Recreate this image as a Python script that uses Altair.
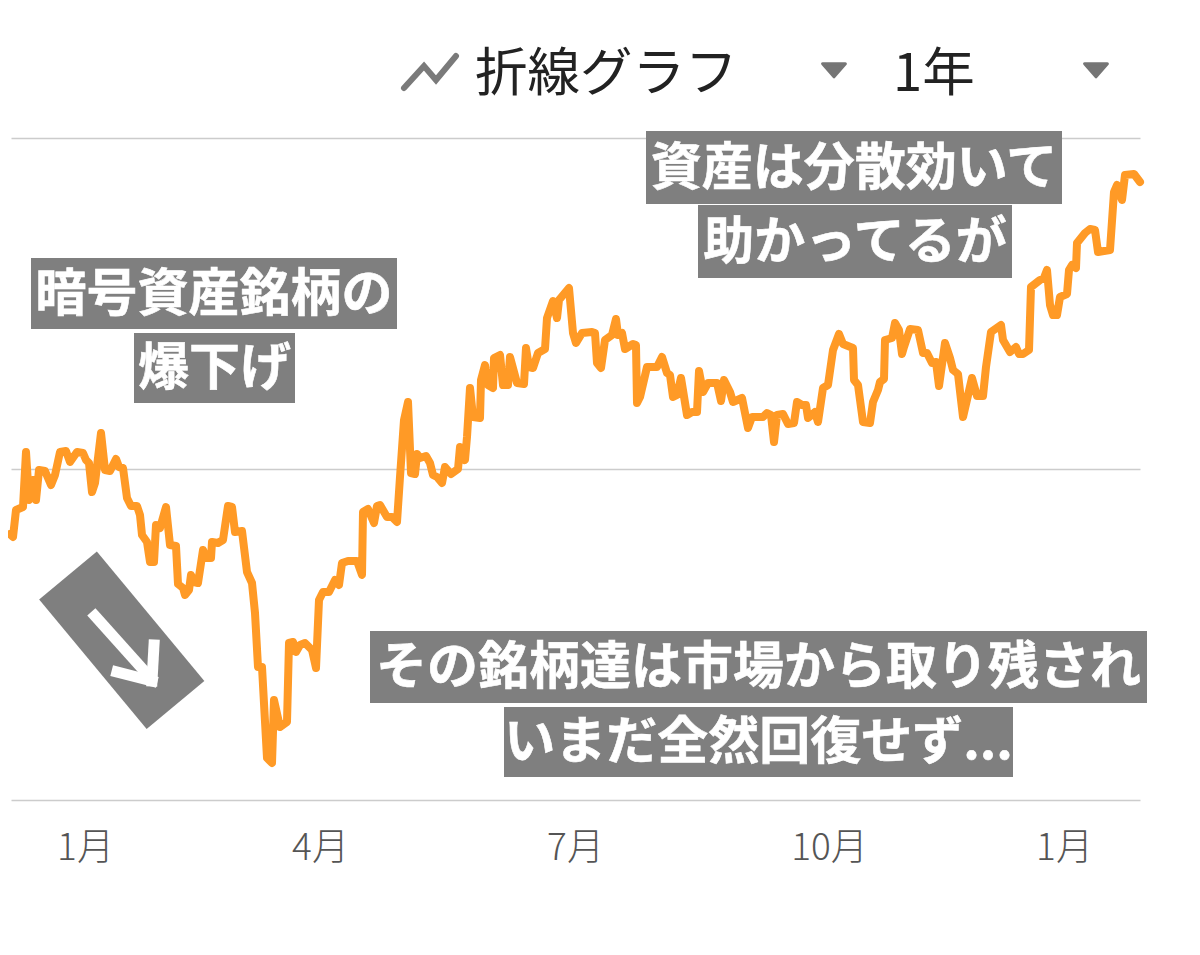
import altair as alt
import pandas as pd

# Series (session position, value above the baseline)
sessions = [10,13,16,23,26,29,33,36,39,45,51,55,60,66,70,77,83,86,89,92,95,101,105,110,116,119,123,127,131,137,140,142,147,150,154,156,160,166,170,176,178,183,185,189,191,194,198,203,206,211,212,218,223,228,232,235,242,247,252,255,258,262,267,272,274,280,287,289,293,296,300,305,312,316,319,323,329,335,339,342,348,357,362,363,368,374,377,380,387,392,397,400,404,408,411,415,417,420,426,430,433,437,442,445,451,458,460,465,467,470,473,480,481,485,488,493,494,500,503,508,510,517,524,526,529,533,538,545,547,553,557,559,569,573,576,582,592,595,597,601,605,612,616,618,622,625,633,636,637,640,647,657,662,667,670,673,677,681,687,692,697,699,703,708,717,721,724,730,733,742,748,752,763,767,771,774,777,783,788,794,797,802,806,808,815,818,823,828,833,839,843,853,854,858,863,870,873,878,880,884,885,892,895,899,902,904,910,918,923,927,932,936,939,945,950,953,958,963,972,977,983,986,991,1001,1003,1010,1016,1019,1023,1029,1031,1040,1044,1047,1050,1053,1057,1060,1067,1069,1072,1076,1077,1085,1090,1095,1098,1110,1114,1117,1122,1125,1134,1140]
values = [266,263,290,293,348,300,320,300,330,329,315,325,348,349,338,348,347,340,337,308,317,367,330,329,341,333,332,302,294,294,285,265,258,238,238,275,272,293,255,254,216,212,205,210,225,218,217,250,242,242,258,257,260,294,293,268,269,228,217,187,133,133,42,37,100,73,78,157,158,148,155,157,150,132,200,208,208,220,215,237,239,239,225,288,291,277,294,295,283,283,278,323,380,398,327,326,346,342,344,337,325,323,317,333,326,331,353,340,363,412,383,382,420,435,415,412,442,445,415,415,443,417,416,452,433,432,447,451,482,499,482,500,512,467,457,467,468,467,437,432,460,465,481,465,467,451,456,455,397,403,433,433,443,427,425,403,405,422,385,388,388,429,408,417,417,399,420,408,398,402,372,383,383,387,385,358,385,386,376,377,398,395,395,382,388,378,412,415,450,466,456,452,420,415,378,377,398,410,418,421,460,462,477,470,446,453,471,470,447,447,437,438,414,457,442,430,426,383,422,404,404,433,468,475,460,448,453,446,446,450,513,520,522,530,495,485,485,503,506,530,535,532,557,567,571,570,548,550,608,615,600,625,626,618]

tick_positions = [85, 320, 575, 829, 1064]
tick_labels = ["1月", "4月", "7月", "10月", "1月"]
grid_values = [0, 331, 662]

note_text = ["暗号資産銘柄の", "爆下げ", "資産は分散効いて", "助かってるが", "その銘柄達は市場から取り残され", "いまだ全然回復せず..."]
note_left = [31, 134, 646, 698, 370, 504]
note_right = [397, 295, 1062, 1012, 1147, 1013]
note_bottom = [471, 397, 596, 522, 97, 23]
note_top = [542, 467, 669, 595, 169, 93]

X_SCALE = alt.Scale(domain=[11, 1140], nice=False, zero=False)
Y_SCALE = alt.Scale(domain=[0, 662], nice=False, zero=False)
JP = "Noto Sans CJK JP"

x_axis = alt.Axis(
    values=tick_positions,
    labelExpr="{" + ",".join(f"'{p}':'{t}'" for p, t in zip(tick_positions, tick_labels)) + "}[datum.value]",
    title=None, grid=False, ticks=False, domain=False, labelPadding=30,
    labelFontSize=37, labelColor="#555555", labelFont=JP, labelFontWeight=300,
    labelOverlap=False, labelFlush=False,
)
y_axis = alt.Axis(
    values=grid_values, title=None, labels=False, ticks=False, domain=False,
    grid=True, gridColor="#cccccc", gridWidth=1.6,
)


def X(field):
    return alt.X(field, type="quantitative", scale=X_SCALE, axis=x_axis)


def Y(field):
    return alt.Y(field, type="quantitative", scale=Y_SCALE, axis=y_axis)


series = pd.DataFrame({"session": sessions, "value": values})
line = alt.Chart(series).mark_line(
    color="#ff9a26", strokeWidth=8, strokeJoin="round", strokeCap="round"
).encode(x=X("session"), y=Y("value"))

notes = pd.DataFrame({
    "text": note_text, "l": note_left, "r": note_right, "b": note_bottom, "t": note_top,
})
notes["cx"] = (notes.l + notes.r) / 2
notes["cy"] = (notes.b + notes.t) / 2
boxes = alt.Chart(notes).mark_rect(color="#7f7f7f").encode(
    x=X("l"), x2="r", y=Y("b"), y2="t"
)
note_marks = alt.Chart(notes).mark_text(
    font=JP, fontSize=51, fontWeight="bold", color="#ffffff", baseline="middle", align="center",
    dy=2, stroke="#ffffff", strokeWidth=0.6,
).encode(x=X("cx"), y=Y("cy"), text="text")

# Rotated arrow badge
badge = alt.Chart(pd.DataFrame({"a": [68], "a2": [175.5], "b": [224.5], "b2": [95]})).mark_rule(
    color="#7f7f7f", strokeWidth=75, strokeCap="butt"
).encode(x=X("a"), x2="a2", y=Y("b"), y2="b2")
arrow = alt.Chart(pd.DataFrame({
    "a": [95, 152, 152], "a2": [148, 154, 117],
    "b": [184, 119, 119], "b2": [125, 155, 128],
})).mark_rule(color="#ffffff", strokeWidth=11, strokeCap="square").encode(
    x=X("a"), x2="a2", y=Y("b"), y2="b2"
)

# Header controls
icon = alt.Chart(pd.DataFrame({"a": [404, 424, 436, 456], "b": [712, 734, 720, 744]})).mark_line(
    color="#7a7a7a", strokeWidth=6, strokeCap="round", strokeJoin="miter"
).encode(x=X("a"), y=Y("b"))
menu = alt.Chart(pd.DataFrame({"t": ["折線グラフ", "1年"], "a": [475, 893], "b": [725, 725]})).mark_text(
    font=JP, fontSize=52.5, fontWeight=400, color="#222222", align="left", baseline="middle"
).encode(x=X("a"), y=Y("b"), text="t")
carets = alt.Chart(pd.DataFrame({"a": [834, 1096], "b": [730, 730]})).mark_point(
    shape="M-1,-0.55 L1,-0.55 L0,0.6 Z", size=520, filled=True, color="#757575",
    stroke="#757575", strokeWidth=3, strokeJoin="round", opacity=1
).encode(x=X("a"), y=Y("b"))

chart = alt.layer(line, boxes, note_marks, badge, arrow, icon, menu, carets).properties(
    width=1129, height=662,
    autosize=alt.AutoSizeParams(type="none"),
    padding={"left": 3, "top": 130, "right": 52, "bottom": 147},
    background="#ffffff",
).configure_view(stroke=None)

chart.save("out.html", embed_options={"renderer": "svg", "actions": False})
